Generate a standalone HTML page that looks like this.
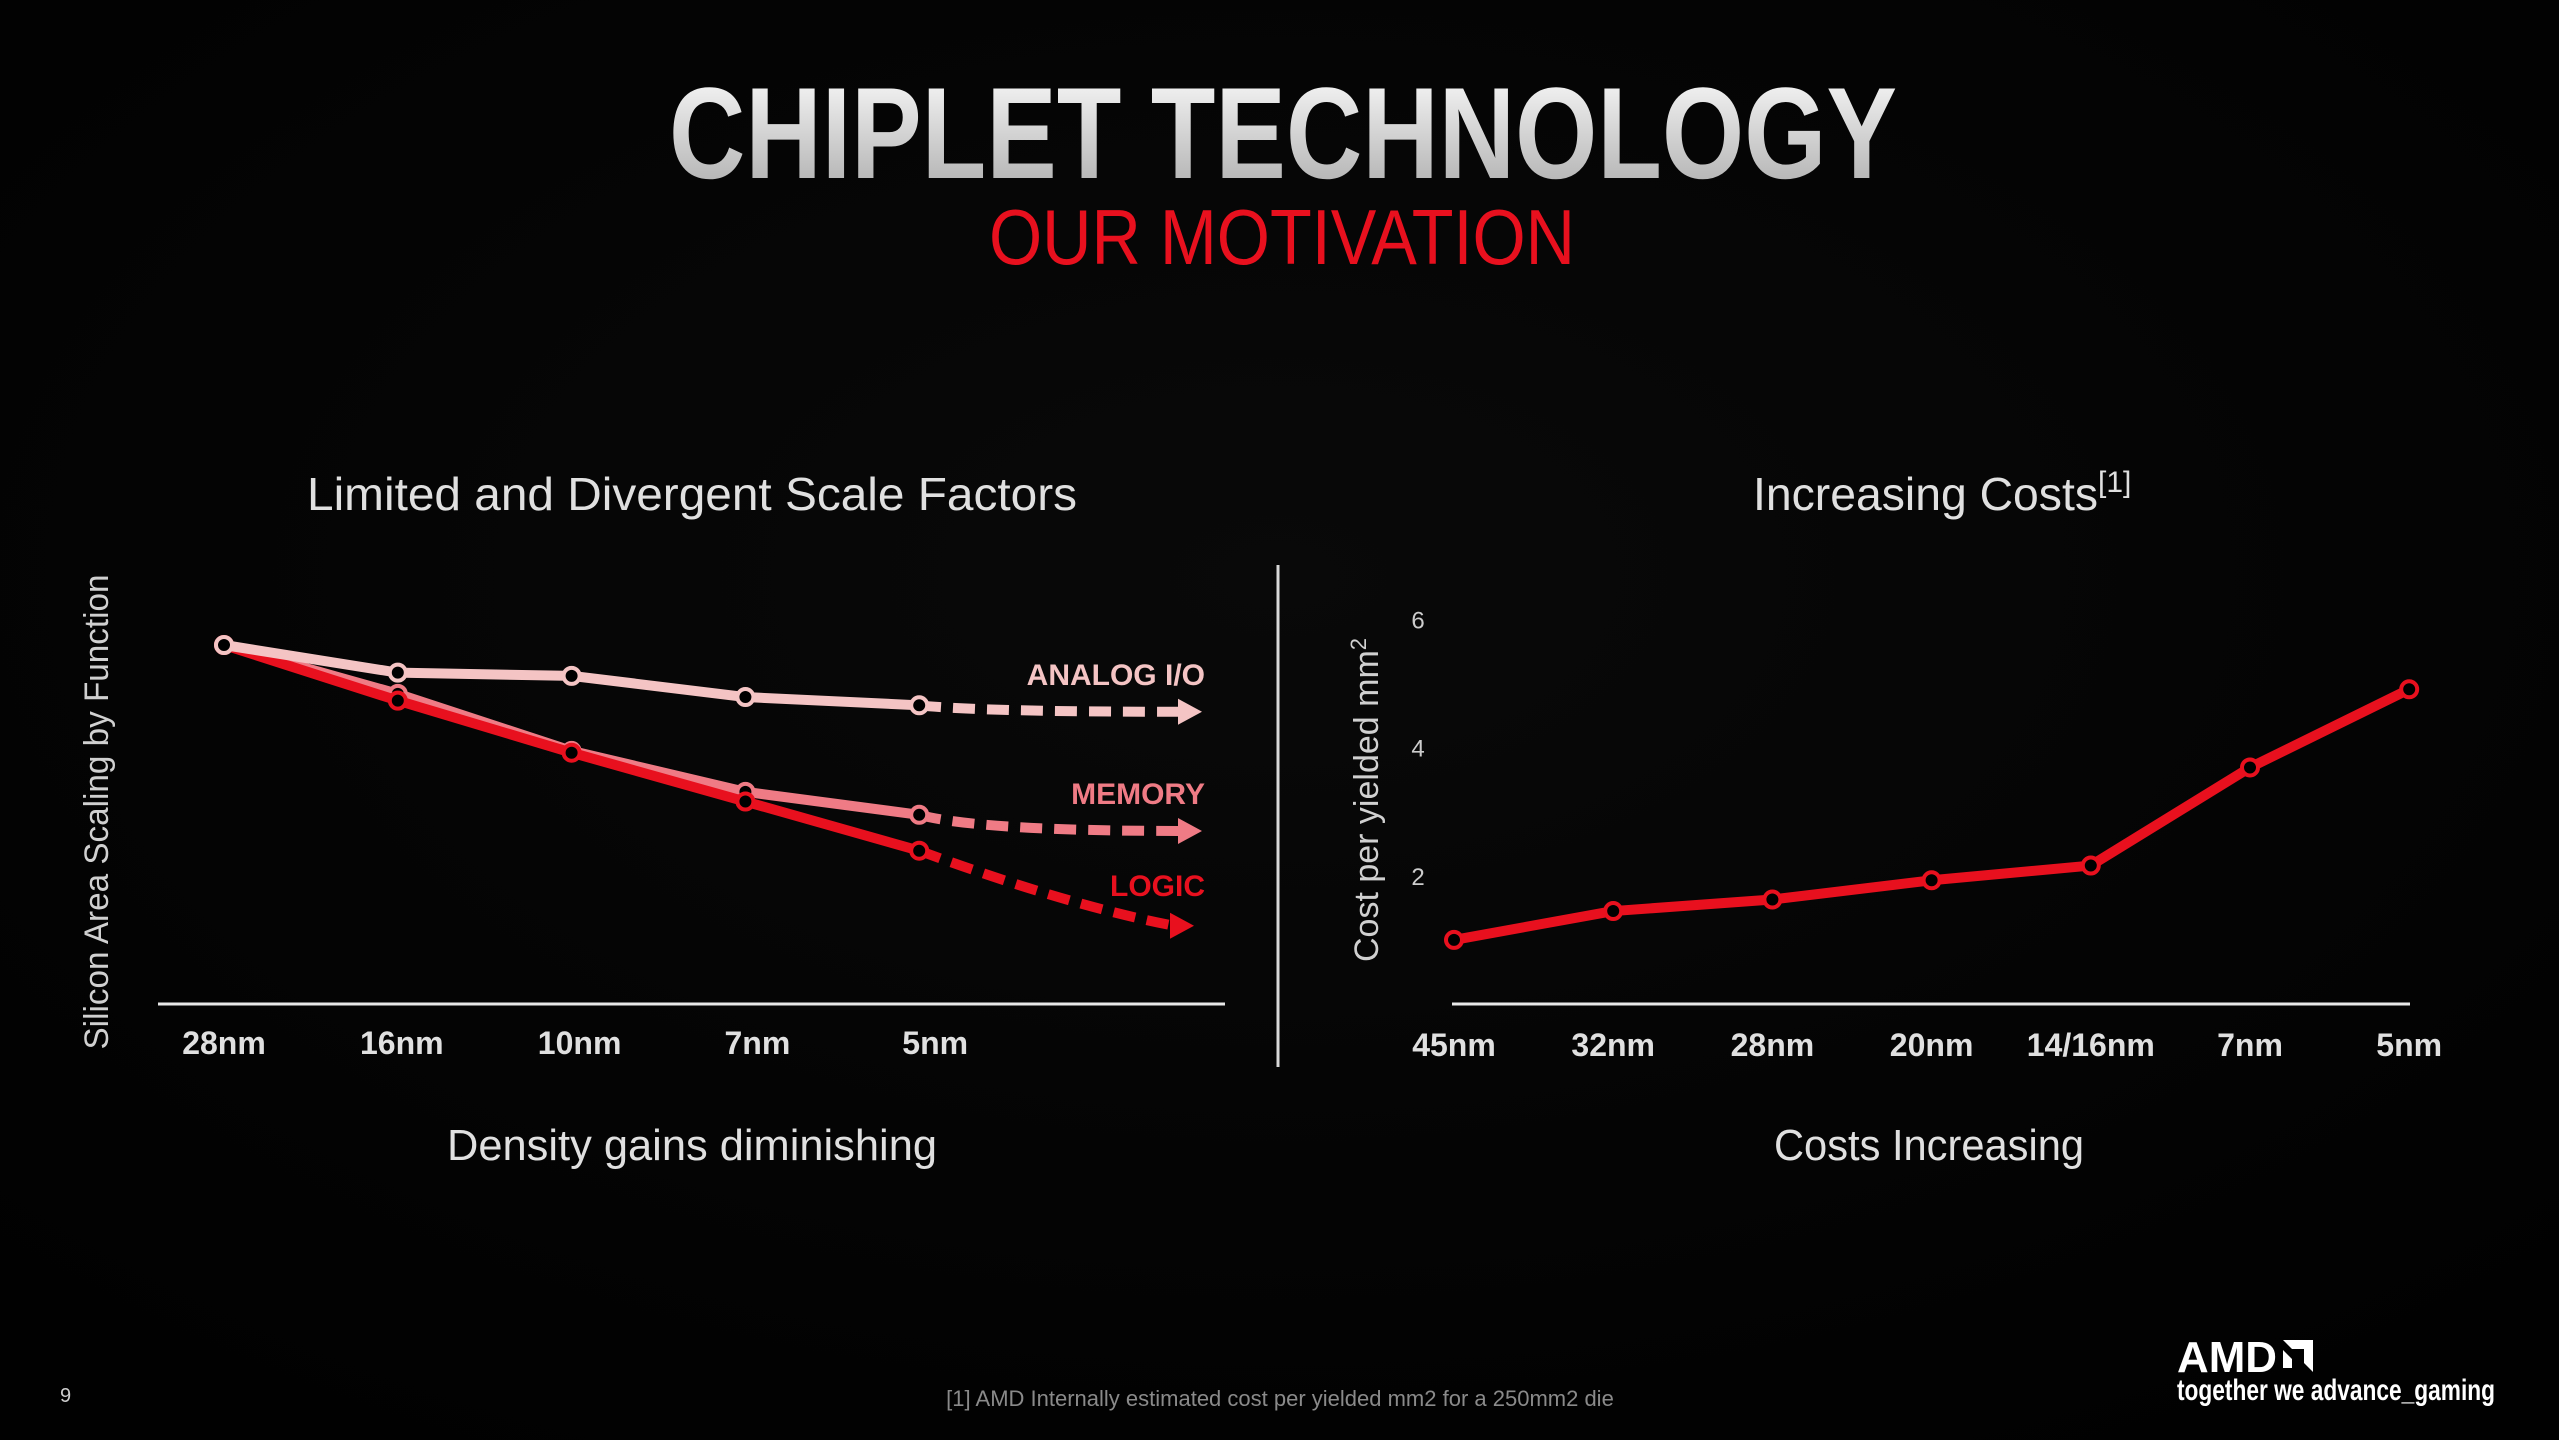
<!DOCTYPE html>
<html><head><meta charset="utf-8"><style>
html,body{margin:0;padding:0;background:#000;}
svg{display:block;}
text{font-family:"Liberation Sans Narrow","Liberation Sans",sans-serif;}
</style></head><body>
<svg id="s" width="2559" height="1440" viewBox="0 0 2559 1440" xmlns="http://www.w3.org/2000/svg">
<defs>
<linearGradient id="tg" x1="0" y1="0" x2="0" y2="1"><stop offset="0" stop-color="#ffffff"/><stop offset="1" stop-color="#a8a8a8"/></linearGradient>
<radialGradient id="bg" cx="0.5" cy="0.4" r="0.7"><stop offset="0" stop-color="#090909"/><stop offset="1" stop-color="#010101"/></radialGradient>
</defs>
<rect width="2559" height="1440" fill="url(#bg)"/>
<text x="669" y="178" font-size="130" font-weight="bold" fill="url(#tg)" textLength="1228" lengthAdjust="spacingAndGlyphs">CHIPLET TECHNOLOGY</text>
<text x="989" y="264" font-size="78" fill="#e8101e" textLength="586" lengthAdjust="spacingAndGlyphs">OUR MOTIVATION</text>

<text x="692" y="510" font-size="46" fill="#e0e0e0" text-anchor="middle" style="font-family:'Liberation Sans',sans-serif" textLength="770" lengthAdjust="spacingAndGlyphs">Limited and Divergent Scale Factors</text>
<text x="1753" y="510" font-size="46" fill="#e0e0e0" style="font-family:'Liberation Sans',sans-serif"><tspan textLength="345" lengthAdjust="spacingAndGlyphs">Increasing Costs</tspan><tspan font-size="30" dy="-18">[1]</tspan></text>
<text x="692" y="1160" font-size="44" fill="#e0e0e0" text-anchor="middle" style="font-family:'Liberation Sans',sans-serif" textLength="490" lengthAdjust="spacingAndGlyphs">Density gains diminishing</text>
<text x="1929" y="1160" font-size="44" fill="#e0e0e0" text-anchor="middle" style="font-family:'Liberation Sans',sans-serif" textLength="310" lengthAdjust="spacingAndGlyphs">Costs Increasing</text>
<line x1="1278" y1="565" x2="1278" y2="1067" stroke="#d8d8d8" stroke-width="3"/>

<text transform="translate(108,812) rotate(-90)" font-size="34" fill="#d0d0d0" text-anchor="middle" style="font-family:'Liberation Sans',sans-serif" textLength="475" lengthAdjust="spacingAndGlyphs">Silicon Area Scaling by Function</text>
<text transform="translate(1378,800) rotate(-90)" font-size="34" fill="#d0d0d0" text-anchor="middle" style="font-family:'Liberation Sans',sans-serif">Cost per yielded mm<tspan font-size="22" dy="-12">2</tspan></text>

<g id="left"></g>
<g id="right"></g>

<text x="60" y="1402" font-size="20" fill="#ccc" style="font-family:'Liberation Sans',sans-serif">9</text>
<text x="1280" y="1406" font-size="22" fill="#8a8a8a" text-anchor="middle">[1] AMD Internally estimated cost per yielded mm2 for a 250mm2 die</text>
<g>
<text x="2177" y="1372" font-size="44" font-weight="bold" fill="#fff" style="font-family:'Liberation Sans',sans-serif" textLength="100" lengthAdjust="spacingAndGlyphs">AMD</text>
<path d="M2283 1340 H2313 V1372 L2304 1363 V1349 H2292 Z M2283 1350 L2292 1359 V1368 H2283 Z" fill="#fff"/>
<text x="2177" y="1400" font-size="30" font-weight="bold" fill="#fff" textLength="318" lengthAdjust="spacingAndGlyphs">together we advance_gaming</text>
</g>
</svg>
<script>
// Left chart data
const nodesL = ["28nm","16nm","10nm","7nm","5nm"];
const analogVals = [1.0,0.923,0.914,0.855,0.832];
const memoryVals = [1.0,0.864,0.705,0.591,0.527];
const logicVals = [1.0,0.845,0.700,0.564,0.427];
const analogEnd = 0.814, memoryEnd = 0.482, logicEnd = 0.218;
// Right chart data
const nodesR = ["45nm","32nm","28nm","20nm","14/16nm","7nm","5nm"];
const costVals = [1.0,1.45,1.63,1.93,2.16,3.69,4.91];
const costTicks = [2,4,6];

const NS="http://www.w3.org/2000/svg";
function mk(tag,attrs,parent){const e=document.createElementNS(NS,tag);for(const k in attrs)e.setAttribute(k,attrs[k]);parent.appendChild(e);return e;}
const L=document.getElementById('left'), R=document.getElementById('right');

const lx=i=>224+i*173.8;
const ly=v=>1004-v*359;
const ax1=mk('line',{x1:158,y1:1004,x2:1225,y2:1004,stroke:'#e8e8e8','stroke-width':3},L);


nodesL.forEach((n,i)=>{
  const t=mk('text',{x:lx(i)+i*4,y:1054,'font-size':32,'font-weight':'bold',fill:'#e0e0e0','text-anchor':'middle'},L);t.textContent=n;
  
  
});
function series(vals,end,endPt,color,name,label,ly0,curve){
  const pts=vals.map((v,i)=>[lx(i),ly(v)]);
  const p=mk('polyline',{points:pts.map(q=>q.join(',')).join(' '),fill:'none',stroke:color,'stroke-width':10,'stroke-linejoin':'round'},L);
  
  
  const last=pts[pts.length-1];
  const ex=endPt, ey=ly(end);
  let d;
  if(curve){d=`M${last[0]},${last[1]} Q${last[0]+150},${ey-20} ${ex-20},${ey}`;}
  else{d=`M${last[0]},${last[1]} Q${last[0]+60},${ey} ${ex-20},${ey}`;}
  const dp=mk('path',{d:d,fill:'none',stroke:color,'stroke-width':10,'stroke-dasharray':'22 12'},L);
  
  
  const ah=mk('polygon',{points:`${ex},${ey} ${ex-24},${ey-13} ${ex-24},${ey+13}`,fill:color},L);
  
  
  pts.forEach(q=>{const c=mk('circle',{cx:q[0],cy:q[1],r:8,fill:'#000',stroke:color,'stroke-width':4},L);
    
    });
  const t=mk('text',{x:1205,y:ly0,'font-size':30,'font-weight':'bold',fill:color,'text-anchor':'end'},L);t.textContent=label;
  
  
}
series(memoryVals,memoryEnd,1202,'#ef7b85','memory','MEMORY',804,false);
series(logicVals,logicEnd,1194,'#e8101e','logic','LOGIC',896,true);
series(analogVals,analogEnd,1202,'#f4c4c4','analog','ANALOG I/O',685,false);

const rx=i=>1454+i*159.2;
const ry=v=>1004-v*64.1;
const ax2=mk('line',{x1:1452,y1:1004,x2:2410,y2:1004,stroke:'#e8e8e8','stroke-width':3},R);


costTicks.forEach(v=>{const t=mk('text',{x:1418,y:ry(v)+9,'font-size':24,fill:'#ccc','text-anchor':'middle'},R);t.textContent=v;
  
  });
nodesR.forEach((n,i)=>{const t=mk('text',{x:rx(i),y:1056,'font-size':32,'font-weight':'bold',fill:'#e0e0e0','text-anchor':'middle'},R);t.textContent=n;
  
  });
const cp=mk('polyline',{points:costVals.map((v,i)=>rx(i)+','+ry(v)).join(' '),fill:'none',stroke:'#e8101e','stroke-width':10,'stroke-linejoin':'round'},R);


costVals.forEach((v,i)=>{const c=mk('circle',{cx:rx(i),cy:ry(v),r:8,fill:'#000',stroke:'#e8101e','stroke-width':4},R);
  
  });
</script>
</body></html>
